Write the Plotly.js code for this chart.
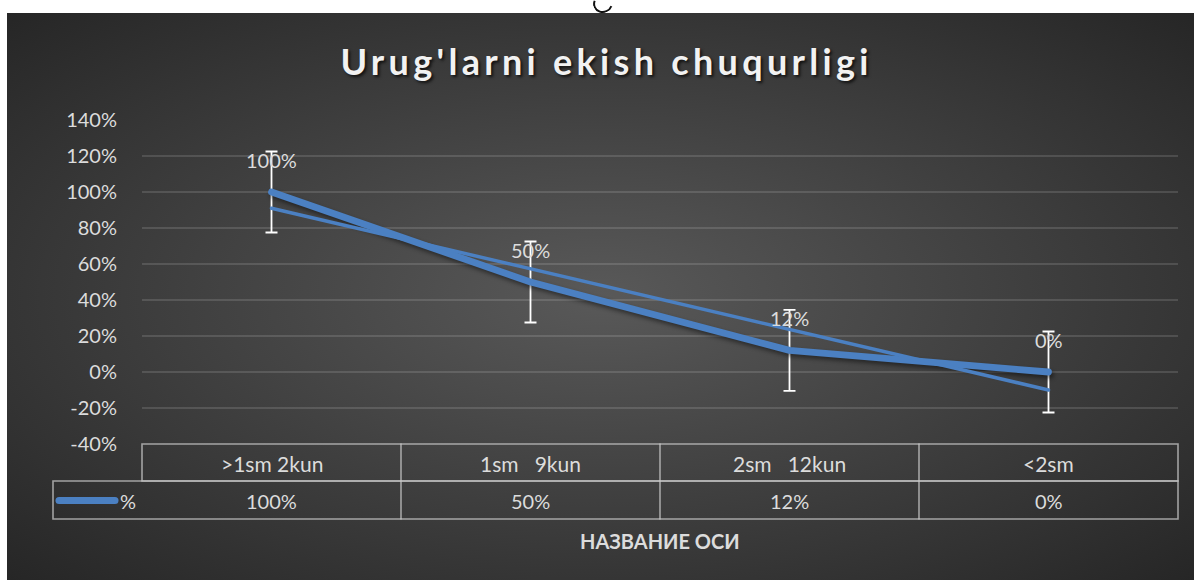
<!DOCTYPE html>
<html><head><meta charset="utf-8">
<script src="https://cdn.plot.ly/plotly-3.0.1.min.js"></script>
<style>
html,body{margin:0;padding:0;background:#fff;width:1194px;height:580px;overflow:hidden;}
#bg{position:absolute;left:7px;top:13px;width:1187px;height:567px;background:radial-gradient(ellipse farthest-corner at 50% 50%, #595959 0%, #262626 100%);}
#chart{position:absolute;left:0;top:0;width:1194px;height:580px;}
#frag{position:absolute;left:593px;top:-6px;width:16px;height:15px;border:2.2px solid #111;border-radius:50%;border-top-color:transparent;border-right-color:transparent;transform:rotate(-25deg);}
.gtitle{letter-spacing:4.3px;}
.shapelayer path{stroke-linecap:round !important;}
.scatterlayer .js-line{stroke-linecap:round !important;stroke-linejoin:round !important;}
.scatterlayer .trace:first-child .js-line{filter:drop-shadow(2px 3px 2px rgba(0,0,0,0.45));}
</style></head>
<body><div id="bg"></div><div id="frag"></div><div id="chart"></div>
<script>
// ---- data ----
const categories = ['>1sm 2kun', '1sm   9kun', '2sm   12kun', '<2sm'];
const values = [1.00, 0.50, 0.12, 0.00];
const errorValues = [0.225, 0.225, 0.225, 0.225];
const trendCategories = ['>1sm 2kun', '<2sm'];
const trendValues = [0.91, -0.10];
const seriesName = '%';
const yTickVals = [-0.4, -0.2, 0, 0.2, 0.4, 0.6, 0.8, 1.0, 1.2, 1.4];
const chartTitle = "Urug'larni ekish chuqurligi";
const axisTitle = 'НАЗВАНИЕ ОСИ';

// ---- style ----
const FONT = 'Lato, "Open Sans", "Noto Sans", sans-serif';
const TXT = '#dcdcdc';
const BLUE = '#4b80c2';
const BORDER = 'rgba(200,200,200,0.75)';
const L = 142, R = 1178, T = 120, B = 444;
const px2x = p => (p - L) / (R - L);
const px2y = p => (B - p) / (B - T);
const pct = v => Math.round(v * 100) + '%';
const disp = s => s.replace(/ /g, '\u00a0');

const N = categories.length;
const rowMid = 481, rowBot = 519;

const shapes = [
  {type:'rect', xref:'paper', yref:'paper', x0:0, x1:1, y0:px2y(rowMid), y1:0, line:{color:BORDER, width:1.6}},
  {type:'rect', xref:'paper', yref:'paper', x0:px2x(53), x1:1, y0:px2y(rowBot), y1:px2y(rowMid), line:{color:BORDER, width:1.6}},
  {type:'line', xref:'paper', yref:'paper', x0:px2x(59), x1:px2x(115), y0:px2y(500.5), y1:px2y(500.5), line:{color:BLUE, width:7}}
];
for (let i = 1; i < N; i++) {
  shapes.push({type:'line', xref:'paper', yref:'paper', x0:i/N, x1:i/N, y0:px2y(rowBot), y1:0, line:{color:BORDER, width:1.6}});
}

const ann = (o) => Object.assign({showarrow:false, xanchor:'center', yanchor:'middle'}, o);
const annotations = [];
categories.forEach((c, i) => {
  annotations.push(ann({xref:'x', yref:'paper', x:c, y:px2y(463), text:disp(c), font:{family:FONT, size:21, color:TXT}}));
  annotations.push(ann({xref:'x', yref:'paper', x:c, y:px2y(501), text:pct(values[i]), font:{family:FONT, size:20, color:TXT}}));
  annotations.push(ann({xref:'x', yref:'y', x:c, y:values[i], yshift:32, text:pct(values[i]), font:{family:FONT, size:20, color:TXT}}));
});
annotations.push(ann({xref:'paper', yref:'paper', x:px2x(128), y:px2y(501), text:seriesName, font:{family:FONT, size:20, color:TXT}}));
annotations.push(ann({xref:'paper', yref:'paper', x:0.5, y:px2y(541), text:axisTitle, font:{family:FONT, size:20, color:TXT, weight:700}}));

const traces = [
  {type:'scatter', mode:'lines', name:seriesName, x:categories, y:values,
   line:{color:BLUE, width:6.8},
   error_y:{type:'data', array:errorValues, visible:true, color:'#ffffff', thickness:1.8, width:6},
   hoverinfo:'skip'},
  {type:'scatter', mode:'lines', name:'trend', x:trendCategories, y:trendValues,
   line:{color:BLUE, width:3.5}, hoverinfo:'skip'}
];

const layout = {
  width:1194, height:580,
  paper_bgcolor:'rgba(0,0,0,0)', plot_bgcolor:'rgba(0,0,0,0)',
  margin:{l:L, r:1194-R, t:T, b:580-B},
  showlegend:false,
  title:{text:chartTitle, x:0.508, xref:'container', xanchor:'center', y:1-62/580, yref:'container', yanchor:'middle',
    font:{family:FONT, size:36, weight:700, color:'#f2f2f2', shadow:'2px 2px 3px rgba(0,0,0,0.7)'}},
  xaxis:{type:'category', categoryarray:categories, range:[-0.5, N-0.5], showticklabels:false, showgrid:false, zeroline:false, showline:false, ticks:''},
  yaxis:{range:[-0.4, 1.4], tickvals:yTickVals, ticktext:yTickVals.map(pct), showgrid:true, gridcolor:'rgba(255,255,255,0.13)', gridwidth:1.3,
    zeroline:false, showline:false, ticks:'outside', ticklen:20, tickcolor:'rgba(0,0,0,0)', tickfont:{family:FONT, size:20, color:TXT}},
  shapes:shapes, annotations:annotations
};

Plotly.newPlot('chart', traces, layout, {staticPlot:true, displayModeBar:false});
</script>
</body></html>
